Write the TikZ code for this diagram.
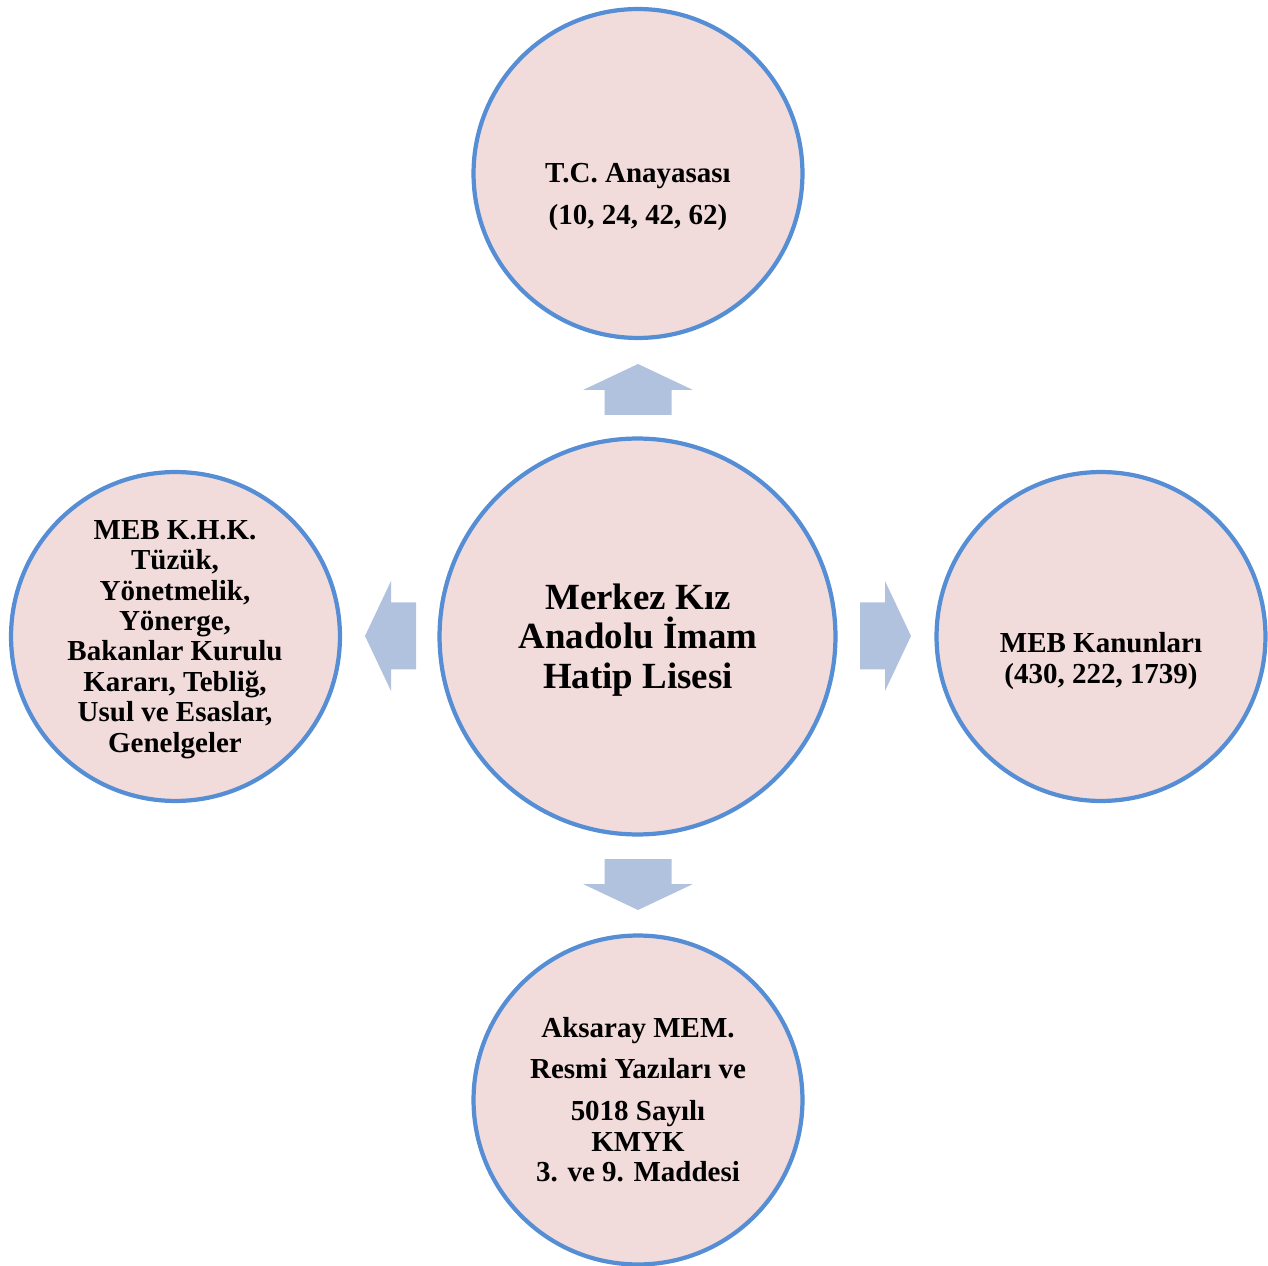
\documentclass[tikz,border=0pt]{standalone}
\usepackage{fontspec}
\setmainfont{Liberation Serif}
\usepackage{tikz}

\definecolor{ringblue}{HTML}{558ED5}
\definecolor{ringfill}{HTML}{F2DCDB}
\definecolor{arrowblue}{HTML}{B0C2DE}

\tikzset{
  ring/.style={circle, draw=ringblue, fill=ringfill, line width=2.4pt, inner sep=0pt},
  ringtext/.style={align=center, inner sep=0pt, font=\bfseries\fontsize{16.5}{17.3}\selectfont},
  bigtext/.style={align=center, inner sep=0pt, font=\bfseries\fontsize{21}{22.4}\selectfont},
  blockarrow/.style={fill=arrowblue}
}

\begin{document}
\begin{tikzpicture}[x=0.02cm, y=-0.02cm]
\useasboundingbox (0,0) rectangle (1268,1266);

\coordinate (c) at (637.5,636.5);
\coordinate (t) at (638,173.5);
\coordinate (l) at (175.5,636.5);
\coordinate (r) at (1101,636.5);
\coordinate (b) at (638,1100);

\coordinate (upA) at (638,390);
\coordinate (rightA) at (885,636);
\coordinate (downA) at (638,884);
\coordinate (leftA) at (391,636);

% circles
\node[ring, minimum size=7.92cm] (merkez) at (c) {};
\node[ring, minimum size=6.58cm] (anayasa) at (t) {};
\node[ring, minimum size=6.58cm] (khk) at (l) {};
\node[ring, minimum size=6.58cm] (kanun) at (r) {};
\node[ring, minimum size=6.58cm] (aksaray) at (b) {};

% block arrows
\foreach \n/\a in {upA/90, rightA/0, downA/-90, leftA/180}
  \fill[blockarrow, shift={(\n)}, rotate=\a] (-25,-33.5) -- (0,-33.5) -- (0,-55)
    -- (26,0) -- (0,55) -- (0,33.5) -- (-25,33.5) -- cycle;

% texts
\node[bigtext] (merkezT) at (638,640) {Merkez Kız\\Anadolu İmam\\Hatip Lisesi};
\node[ringtext] (anayasaT) at (638,197) {T.C. Anayasası\\[6.5pt](10, 24, 42, 62)};
\node[ringtext] (khkT) at (175,639.5) {MEB K.H.K.\\Tüzük,\\Yönetmelik,\\Yönerge,\\Bakanlar Kurulu\\Kararı, Tebliğ,\\Usul ve Esaslar,\\Genelgeler};
\node[ringtext] (kanunT) at (1101,661) {MEB Kanunları\\(430, 222, 1739)};
\node[ringtext] (aksarayT) at (638,1099.5) {Aksaray MEM.\\[6.5pt]Resmi Yazıları ve\\[6.5pt]5018 Sayılı\\KMYK\\3. ve 9. Maddesi};
\end{tikzpicture}
\end{document}
